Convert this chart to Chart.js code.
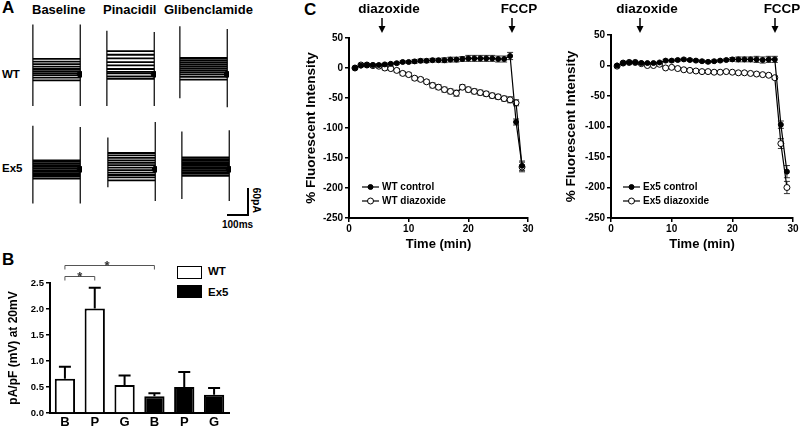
<!DOCTYPE html>
<html>
<head>
<meta charset="utf-8">
<script src="https://cdn.jsdelivr.net/npm/chart.js@4/dist/chart.umd.min.js"></script>
<style>
body { margin: 0; background: #fff; }
#fig { position: relative; width: 800px; height: 430px; overflow: hidden; font-family: "Liberation Sans", Arial, sans-serif; }
.lbl { position: absolute; font-weight: bold; color: #000; white-space: nowrap; line-height: 1; }
canvas { position: absolute; }
.box { position: absolute; box-sizing: border-box; border: 1.5px solid #000; }
</style>
</head>
<body>
<div id="fig">
  <div class="lbl" style="left:2px;top:-1px;font-size:17px">A</div>
  <div class="lbl" style="left:32px;top:3px;font-size:13px">Baseline</div>
  <div class="lbl" style="left:103px;top:3px;font-size:13px">Pinacidil</div>
  <div class="lbl" style="left:164px;top:3px;font-size:13px">Glibenclamide</div>
  <div class="lbl" style="left:2px;top:69px;font-size:11.5px">WT</div>
  <div class="lbl" style="left:2px;top:163px;font-size:11.5px">Ex5</div>
  <div style="position:absolute;left:247px;top:188px;width:1.5px;height:28px;background:#000"></div>
  <div style="position:absolute;left:227px;top:214px;width:22px;height:1.5px;background:#000"></div>
  <div class="lbl" style="left:244px;top:195px;font-size:10.5px;transform:rotate(90deg)">60pA</div>
  <div class="lbl" style="left:222px;top:220px;font-size:10px">100ms</div>

  <div class="lbl" style="left:2px;top:251px;font-size:17px">B</div>
  <div class="box" style="left:177px;top:266px;width:25px;height:13px;background:#fff"></div>
  <div class="box" style="left:177px;top:285px;width:25px;height:13px;background:#000"></div>
  <div class="lbl" style="left:208px;top:266px;font-size:11.5px">WT</div>
  <div class="lbl" style="left:208px;top:287px;font-size:11.5px">Ex5</div>

  <div class="lbl" style="left:304px;top:1px;font-size:17px">C</div>
</div>
<script>
// ---- panel A: whole-cell current traces (step levels in pA) ----
const stepMs = 270;
const wtBaselineLevels = [38, 31, 25, 19, 13, 8, 3, -2, -8, -15];
const wtPinacidilLevels = [57, 48, 39, 30, 22, 13, 6, 2, -5, -11];
const wtGlibLevels = [40, 35, 30, 25, 20, 15, 10, 5, 0, -6, -13];
const ex5BaselineLevels = [22, 18, 14, 10, 6, 2, -2, -6, -10, -14, -18, -23];
const ex5PinacidilLevels = [40, 34, 28, 22, 16, 10, 4, -2, -8, -14, -20, -27];
const ex5GlibLevels = [29, 25, 21, 17, 13, 9, 5, 1, -3, -7, -11, -16];
// capacitive transients: [on top, on bottom, off top, off bottom]
const wtBaselineSpikes = [122, -78, 122, -78];
const wtPinacidilSpikes = [107, -78, 104, -78];
const wtGlibSpikes = [118, -59, 111, -81];
const ex5BaselineSpikes = [107, -84, 104, -84];
const ex5PinacidilSpikes = [78, -44, 116, -78];
const ex5GlibSpikes = [93, -73, 96, -78];

// ---- panel B ----
const barLabels = ['B', 'P', 'G', 'B', 'P', 'G'];
const wtValues = [0.66, 2.01, 0.54, null, null, null];
const wtErrors = [0.23, 0.40, 0.18, null, null, null];
const ex5Values = [null, null, null, 0.32, 0.50, 0.35];
const ex5Errors = [null, null, null, 0.06, 0.29, 0.13];
const yTicksB = ['0.0', '0.5', '1.0', '1.5', '2.0', '2.5'];

// ---- panel C ----
const timeMin = [1, 2, 3, 4, 5, 6, 7, 8, 9, 10, 11, 12, 13, 14, 15, 16, 17, 18, 19, 20, 21, 22, 23, 24, 25, 26, 27, 28, 29];
const wtControl = [0, 4, 5, 5, 5, 6, 7, 8, 10, 10, 11, 12, 12, 13, 13, 13, 14, 14, 15, 16, 16, 16, 16, 16, 15, 15, 20, -90, -163];
const wtControlErr = [1, 1, 1, 1, 2, 2, 2, 2, 2, 2, 3, 3, 3, 3, 3, 4, 4, 4, 4, 5, 5, 5, 5, 5, 5, 5, 6, 5, 8];
const wtDiazoxide = [0, 5, 5, 4, 3, 0, -1, -4, -9, -11, -17, -19, -23, -29, -32, -36, -39, -42, -32, -36, -39, -41, -43, -46, -48, -51, -53, -58, -165];
const wtDiazoxideErr = [1, 2, 2, 2, 2, 3, 3, 3, 3, 3, 3, 3, 3, 4, 4, 4, 4, 5, 4, 4, 4, 4, 4, 4, 4, 4, 5, 5, 8];
const ex5Control = [0, 4, 5, 5, 4, 4, 4, 5, 8, 8, 9, 10, 9, 8, 7, 6, 7, 8, 9, 10, 10, 10, 10, 10, 9, 10, 10, -97, -174];
const ex5ControlErr = [1, 1, 1, 1, 1, 1, 1, 1, 2, 2, 2, 2, 2, 2, 2, 2, 2, 2, 2, 3, 4, 4, 4, 5, 5, 5, 5, 6, 10];
const ex5Diazoxide = [-1, 4, 5, 5, 3, 0, 0, 2, -4, -3, -5, -7, -8, -9, -10, -10, -11, -11, -10, -11, -12, -12, -13, -14, -15, -16, -20, -128, -200];
const ex5DiazoxideErr = [1, 1, 1, 1, 1, 1, 1, 1, 1, 1, 1, 1, 1, 1, 1, 1, 1, 1, 1, 1, 2, 2, 2, 2, 2, 2, 3, 8, 10];
const eventLabels = ['diazoxide', 'FCCP'];
const wtEventTimes = [5.5, 27.3];
const ex5EventTimes = [4.8, 27.0];

const FONT = '"Liberation Sans", Arial, sans-serif';
Chart.defaults.font.family = FONT;
Chart.defaults.font.weight = 'bold';
Chart.defaults.color = '#000';
Chart.defaults.animation = false;

const fig = document.getElementById('fig');
function addCanvas(left, top, w, h) {
    const c = document.createElement('canvas');
    c.width = w; c.height = h;
    c.style.left = left + 'px'; c.style.top = top + 'px';
    c.style.width = w + 'px'; c.style.height = h + 'px';
    fig.appendChild(c);
    return c.getContext('2d');
}

// error bars: symmetric on line charts (drawn under markers), upward on bars
function drawErrors(chart, both) {
    const c = chart.ctx, ys = chart.scales.y;
    chart.data.datasets.forEach((ds, i) => {
        if (!ds.errors) return;
        chart.getDatasetMeta(i).data.forEach((el, j) => {
            const v = ds.vals[j], e = ds.errors[j];
            if (v == null || e == null) return;
            const hi = ys.getPixelForValue(v + e);
            const lo = both ? ys.getPixelForValue(v - e) : el.y;
            const cap = both ? 3 : 6;
            c.save();
            c.strokeStyle = both ? '#333' : '#000';
            c.lineWidth = both ? 1 : 2;
            c.beginPath();
            c.moveTo(el.x, lo); c.lineTo(el.x, hi);
            c.moveTo(el.x - cap, hi); c.lineTo(el.x + cap, hi);
            if (both) { c.moveTo(el.x - cap, lo); c.lineTo(el.x + cap, lo); }
            c.stroke();
            c.restore();
        });
    });
}
const errorBars = {
    id: 'errorBars',
    beforeDatasetsDraw(chart) { if (chart.config.type === 'line') drawErrors(chart, true); },
    afterDatasetsDraw(chart) { if (chart.config.type === 'bar') drawErrors(chart, false); }
};

const sigBrackets = {
    id: 'sigBrackets',
    afterDraw(chart, args, opts) {
        const c = chart.ctx, xs = chart.scales.x, ys = chart.scales.y;
        opts.pairs.forEach(p => {
            const x0 = xs.getPixelForValue(p[0]), x1 = xs.getPixelForValue(p[1]);
            const y = Math.round(ys.getPixelForValue(p[2])) + 0.5;
            c.save();
            c.strokeStyle = '#555'; c.lineWidth = 1;
            c.beginPath();
            c.moveTo(x0, y + 4); c.lineTo(x0, y); c.lineTo(x1, y); c.lineTo(x1, y + 4);
            c.stroke();
            c.fillStyle = '#333'; c.font = 'bold 13px ' + FONT; c.textAlign = 'center';
            c.fillText('*', xs.getPixelForValue(p[3]), y + 4);
            c.restore();
        });
    }
};

const eventArrows = {
    id: 'eventArrows',
    afterDraw(chart, args, opts) {
        const c = chart.ctx, xs = chart.scales.x;
        opts.times.forEach((t, i) => {
            const x = Math.round(xs.getPixelForValue(t));
            c.save();
            c.fillStyle = '#000'; c.strokeStyle = '#000';
            c.font = 'bold 13.5px ' + FONT; c.textAlign = 'center'; c.textBaseline = 'middle';
            c.fillText(opts.labels[i], x + 7, 9);
            c.lineWidth = 1.5;
            c.beginPath(); c.moveTo(x, 18); c.lineTo(x, 28); c.stroke();
            c.beginPath(); c.moveTo(x - 3.5, 26); c.lineTo(x + 3.5, 26); c.lineTo(x, 33); c.closePath(); c.fill();
            c.restore();
        });
    }
};

const lineLegend = {
    id: 'lineLegend',
    afterDraw(chart, args, opts) {
        const c = chart.ctx;
        chart.data.datasets.forEach((ds, i) => {
            const y = opts.y + i * 14;
            c.save();
            c.strokeStyle = '#000'; c.lineWidth = 1.2;
            c.beginPath(); c.moveTo(opts.x, y); c.lineTo(opts.x + 17, y); c.stroke();
            c.beginPath(); c.arc(opts.x + 8.5, y, ds.pointRadius, 0, Math.PI * 2);
            c.fillStyle = ds.pointBackgroundColor; c.fill(); c.lineWidth = 1; c.stroke();
            c.fillStyle = '#000'; c.font = 'bold 10px ' + FONT; c.textBaseline = 'middle';
            c.fillText(ds.label, opts.x + 20, y + 0.5);
            c.restore();
        });
    }
};

// ---- panel A charts ----
const pxPerPA = 27 / 60;   // from the 60 pA scale bar
const pxPerMs = 21 / 100;  // from the 100 ms scale bar
const traceBlocks = [
    { levels: wtBaselineLevels, spikes: wtBaselineSpikes, x: 28, y: 75 },
    { levels: wtPinacidilLevels, spikes: wtPinacidilSpikes, x: 102, y: 75 },
    { levels: wtGlibLevels, spikes: wtGlibSpikes, x: 175, y: 75 },
    { levels: ex5BaselineLevels, spikes: ex5BaselineSpikes, x: 28, y: 170 },
    { levels: ex5PinacidilLevels, spikes: ex5PinacidilSpikes, x: 103, y: 170 },
    { levels: ex5GlibLevels, spikes: ex5GlibSpikes, x: 177, y: 170 }
];
traceBlocks.forEach(b => {
    const ctx = addCanvas(b.x - 5 * pxPerMs, b.y - 60, Math.round((stepMs + 15) * pxPerMs), 105);
    const ds = b.levels.map(L => ({ data: [{ x: 0, y: L }, { x: stepMs, y: L }], borderWidth: 1.8 }));
    ds.push({ data: [{ x: 0, y: b.spikes[0] }, { x: 0, y: b.spikes[1] }], borderWidth: 1.2 });
    ds.push({ data: [{ x: stepMs, y: b.spikes[2] }, { x: stepMs, y: b.spikes[3] }], borderWidth: 1.2 });
    ds.push({ data: [{ x: stepMs, y: 0 }], pointRadius: 3, pointBackgroundColor: '#000', showLine: false });
    new Chart(ctx, {
        type: 'line',
        data: { datasets: ds.map(d => Object.assign({ borderColor: '#000', pointRadius: 0 }, d)) },
        options: {
            responsive: false, events: [],
            layout: { padding: 0 },
            plugins: { legend: { display: false }, tooltip: { enabled: false } },
            scales: {
                x: { type: 'linear', display: false, min: -5, max: stepMs + 10 },
                y: { display: false, min: -45 / pxPerPA, max: 60 / pxPerPA }
            }
        }
    });
});

// ---- panel B chart ----
new Chart(addCanvas(0, 250, 235, 180), {
    type: 'bar',
    data: {
        labels: barLabels,
        datasets: [
            { label: 'WT', data: wtValues, vals: wtValues, errors: wtErrors, backgroundColor: '#fff', borderColor: '#000', borderWidth: 2 },
            { label: 'Ex5', data: ex5Values, vals: ex5Values, errors: ex5Errors, backgroundColor: '#000', borderColor: '#000', borderWidth: 2 }
        ]
    },
    options: {
        responsive: false, events: [],
        layout: { padding: { top: 33, right: 6 } },
        datasets: { bar: { barPercentage: 0.68, categoryPercentage: 1, skipNull: true } },
        plugins: {
            legend: { display: false }, tooltip: { enabled: false },
            sigBrackets: { pairs: [[0, 1, 2.63, 0.5], [0, 3, 2.85, 1.41]] }
        },
        scales: {
            x: {
                grid: { display: false, drawTicks: false },
                border: { color: '#000', width: 2 },
                ticks: { font: { size: 13, weight: 'bold' }, padding: 2 },
                afterFit(s) { s.height = 17; }
            },
            y: {
                min: 0, max: 2.5,
                afterBuildTicks(s) { s.ticks = yTicksB.map(t => ({ value: parseFloat(t) })); },
                ticks: { font: { size: 9.5, weight: 'bold' }, padding: 2, callback: (v, i) => yTicksB[i] },
                grid: { drawOnChartArea: false, color: '#000', tickLength: 4, lineWidth: 1.5 },
                border: { color: '#000', width: 2 },
                title: { display: true, text: 'pA/pF (mV) at 20mV', font: { size: 12, weight: 'bold' }, padding: { top: 6, bottom: 0 } },
                afterFit(s) { s.width = 50; }
            }
        }
    },
    plugins: [errorBars, sigBrackets]
});

// ---- panel C charts ----
function seriesSet(ctrlLabel, ctrl, ctrlErr, diazLabel, diaz, diazErr) {
    const toXY = arr => arr.map((y, i) => ({ x: timeMin[i], y }));
    return [
        { label: ctrlLabel, data: toXY(ctrl), vals: ctrl, errors: ctrlErr, borderColor: '#000', borderWidth: 1.2,
          pointRadius: 2.5, pointBackgroundColor: '#000', pointBorderColor: '#000', pointBorderWidth: 1 },
        { label: diazLabel, data: toXY(diaz), vals: diaz, errors: diazErr, borderColor: '#000', borderWidth: 1.2,
          pointRadius: 3, pointBackgroundColor: '#fff', pointBorderColor: '#000', pointBorderWidth: 1 }
    ];
}
function fluorChart(ctx, datasets, padTop, padRight, yWidth, events, legendX) {
    return new Chart(ctx, {
        type: 'line',
        data: { datasets },
        options: {
            responsive: false, events: [],
            layout: { padding: { top: padTop, right: padRight } },
            plugins: {
                legend: { display: false }, tooltip: { enabled: false },
                eventArrows: { labels: eventLabels, times: events },
                lineLegend: { x: legendX, y: 187 }
            },
            scales: {
                x: {
                    type: 'linear', min: 0, max: 30,
                    ticks: { stepSize: 10, font: { size: 10, weight: 'bold' }, padding: 1 },
                    grid: { drawOnChartArea: false, color: '#000', tickLength: 4, lineWidth: 1.5 },
                    border: { color: '#000', width: 2 },
                    title: { display: true, text: 'Time (min)', font: { size: 13, weight: 'bold' }, padding: { top: 2, bottom: 3 } },
                    afterFit(s) { s.height = 37; }
                },
                y: {
                    min: -250, max: 50,
                    ticks: { stepSize: 50, font: { size: 10, weight: 'bold' }, padding: 2 },
                    grid: { drawOnChartArea: false, color: '#000', tickLength: 4, lineWidth: 1.5 },
                    border: { color: '#000', width: 2 },
                    title: { display: true, text: '% Fluorescent Intensity', font: { size: 13.5, weight: 'bold' }, padding: { top: 3, bottom: 0 } },
                    afterFit(s) { s.width = yWidth; }
                }
            }
        },
        plugins: [errorBars, eventArrows, lineLegend]
    });
}

fluorChart(addCanvas(300, 0, 250, 255),
    seriesSet('WT control', wtControl, wtControlErr, 'WT diazoxide', wtDiazoxide, wtDiazoxideErr),
    38, 22, 49, wtEventTimes, 62);
fluorChart(addCanvas(560, 0, 240, 255),
    seriesSet('Ex5 control', ex5Control, ex5ControlErr, 'Ex5 diazoxide', ex5Diazoxide, ex5DiazoxideErr),
    35, 7, 51, ex5EventTimes, 63);
</script>
</body>
</html>
